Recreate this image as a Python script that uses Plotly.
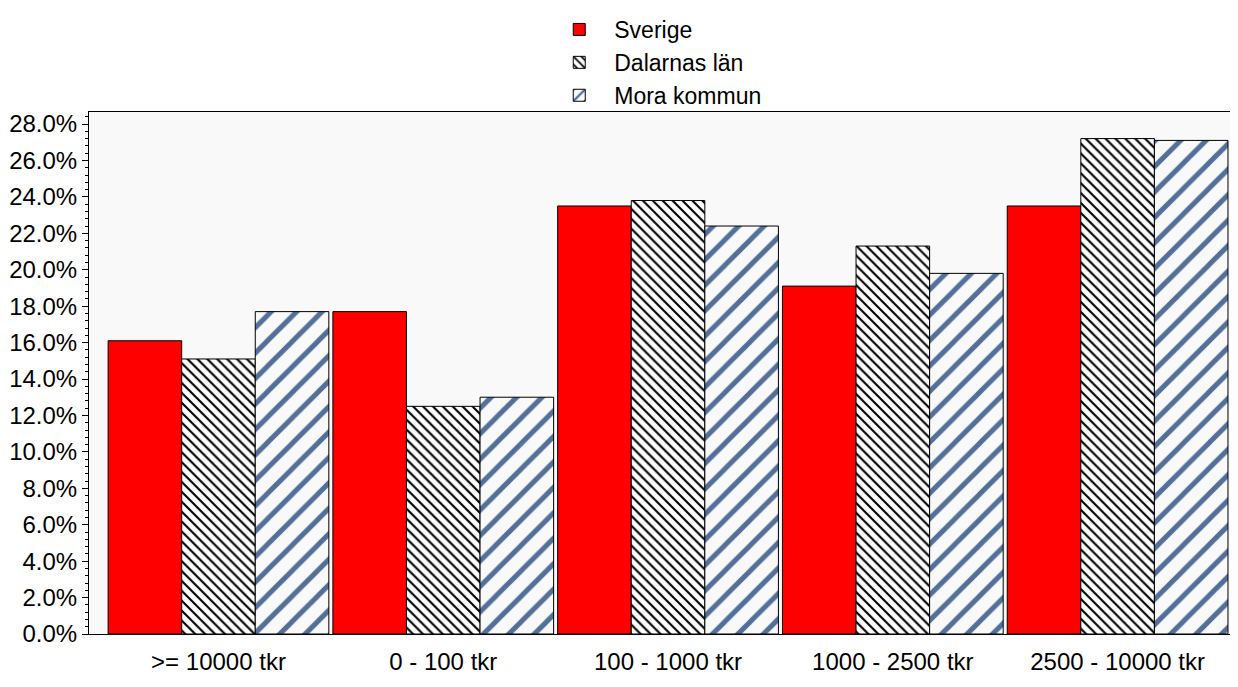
import plotly.graph_objects as go

categories = [">= 10000 tkr", "0 - 100 tkr", "100 - 1000 tkr", "1000 - 2500 tkr", "2500 - 10000 tkr"]
sverige = [16.1, 17.7, 23.5, 19.1, 23.5]
dalarna = [15.1, 12.5, 23.8, 21.3, 27.2]
mora = [17.7, 13.0, 22.4, 19.8, 27.1]
y_ticks = [0, 2, 4, 6, 8, 10, 12, 14, 16, 18, 20, 22, 24, 26, 28]
y_labels = [f"{v:.1f}%" for v in y_ticks]

fig = go.Figure()
fig.add_trace(go.Bar(
    name="Sverige", x=categories, y=sverige,
    marker=dict(color="#ff0000", line=dict(color="black", width=1)),
))
fig.add_trace(go.Bar(
    name="Dalarnas län", x=categories, y=dalarna,
    marker=dict(color="white", line=dict(color="black", width=1),
                pattern=dict(shape="\\", size=7, solidity=0.3, fgopacity=1,
                             fgcolor="black", bgcolor="white", fillmode="replace")),
))
fig.add_trace(go.Bar(
    name="Mora kommun", x=categories, y=mora,
    marker=dict(color="#f9f9f9", line=dict(color="black", width=1),
                pattern=dict(shape="/", size=18, solidity=0.28, fgopacity=1,
                             fgcolor="#52709a", bgcolor="#f9f9f9", fillmode="replace")),
))

fig.update_layout(
    width=1230, height=679,
    barmode="group", bargap=0.018, bargroupgap=0,
    paper_bgcolor="white", plot_bgcolor="#f9f9f9",
    margin=dict(l=81, r=8, t=104, b=53, autoexpand=False),
    font=dict(family="Liberation Sans, Arial, sans-serif", size=24, color="black"),
    legend=dict(
        orientation="v", x=0.399, xanchor="left", y=1.024, yanchor="top",
        yref="container", bgcolor="rgba(0,0,0,0)", font=dict(size=23),
        tracegroupgap=0, itemwidth=60, traceorder="normal",
    ),
    showlegend=True,
)
fig.update_xaxes(
    range=[-0.576, 4.5], showline=True, linecolor="black", linewidth=1, mirror=True,
    ticks="", ticklabelstandoff=6, showgrid=False, tickfont=dict(size=24),
)
fig.update_yaxes(
    range=[0, 28.66], tickvals=y_ticks, ticktext=y_labels,
    showline=True, linecolor="black", linewidth=1, mirror=True,
    ticks="outside", ticklen=6, tickcolor="black", showgrid=False, zeroline=False,
    tickfont=dict(size=24),
    minor=dict(dtick=0.4, ticks="outside", ticklen=3, tickcolor="black"),
)

fig.write_html("out.html")
